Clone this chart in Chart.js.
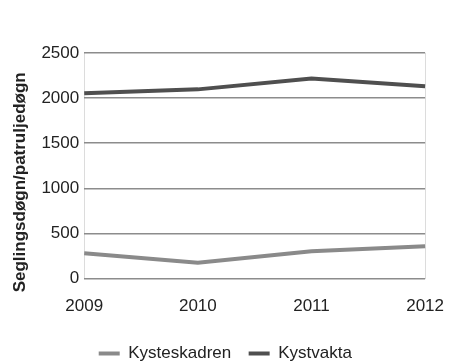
<!DOCTYPE html>
<html><head><meta charset="utf-8">
<script src="https://cdn.jsdelivr.net/npm/chart.js@4"></script>
<style>html,body{margin:0;padding:0;background:#fff}#w{width:450px;height:363px}</style>
</head><body><div id="w"><canvas id="c"></canvas></div>
<script>
const years = ["2009", "2010", "2011", "2012"];
const kysteskadren = [281, 176, 303, 358];
const kystvakta = [2053, 2097, 2218, 2132];
const yTicks = [0, 500, 1000, 1500, 2000, 2500];
const FONT = "'Liberation Sans', Arial, sans-serif";

new Chart(document.getElementById('c'), {
  type: 'line',
  data: {
    labels: years,
    datasets: [
      { label: 'Kysteskadren', data: kysteskadren, borderColor: '#8a8a8a', backgroundColor: '#8a8a8a', borderWidth: 4, pointRadius: 0, tension: 0 },
      { label: 'Kystvakta', data: kystvakta, borderColor: '#4f4f4f', backgroundColor: '#4f4f4f', borderWidth: 4, pointRadius: 0, tension: 0 }
    ]
  },
  options: {
    responsive: true, maintainAspectRatio: false, animation: false,
    layout: { padding: { top: 53, right: 0, left: 10, bottom: -9 } },
    plugins: {
      tooltip: { enabled: false },
      legend: {
        position: 'bottom',
        labels: {
          color: '#222', font: { family: FONT, size: 17 }, boxWidth: 21, boxHeight: 4, padding: 8,
          generateLabels: (chart) => Chart.defaults.plugins.legend.labels.generateLabels(chart).map(l => Object.assign(l, { text: l.text + '  ', lineWidth: 0 }))
        }
      }
    },
    scales: {
      x: {
        offset: false,
        afterFit: (s) => { s.height += 14; },
        grid: { color: (ctx) => (ctx.index === 0 || ctx.index === years.length - 1) ? '#dcdcdc' : 'rgba(0,0,0,0)', drawTicks: true, tickLength: 12, tickColor: 'rgba(0,0,0,0)' },
        border: { display: false },
        ticks: { color: '#222', font: { family: FONT, size: 17 }, padding: 6, maxRotation: 0 }
      },
      y: {
        min: 0, max: 2500,
        afterBuildTicks: (s) => { s.ticks = yTicks.map(v => ({ value: v })); },
        grid: { color: '#8c8c8c', lineWidth: 1.5, drawTicks: false },
        border: { display: false },
        ticks: { color: '#222', font: { family: FONT, size: 17 }, padding: 5, callback: (v) => String(v) },
        title: { display: true, text: 'Seglingsdøgn/patruljedøgn       ', color: '#222', font: { family: FONT, size: 17, weight: 'bold' }, padding: { top: 0, bottom: 6 } }
      }
    }
  }
});
</script></body></html>
